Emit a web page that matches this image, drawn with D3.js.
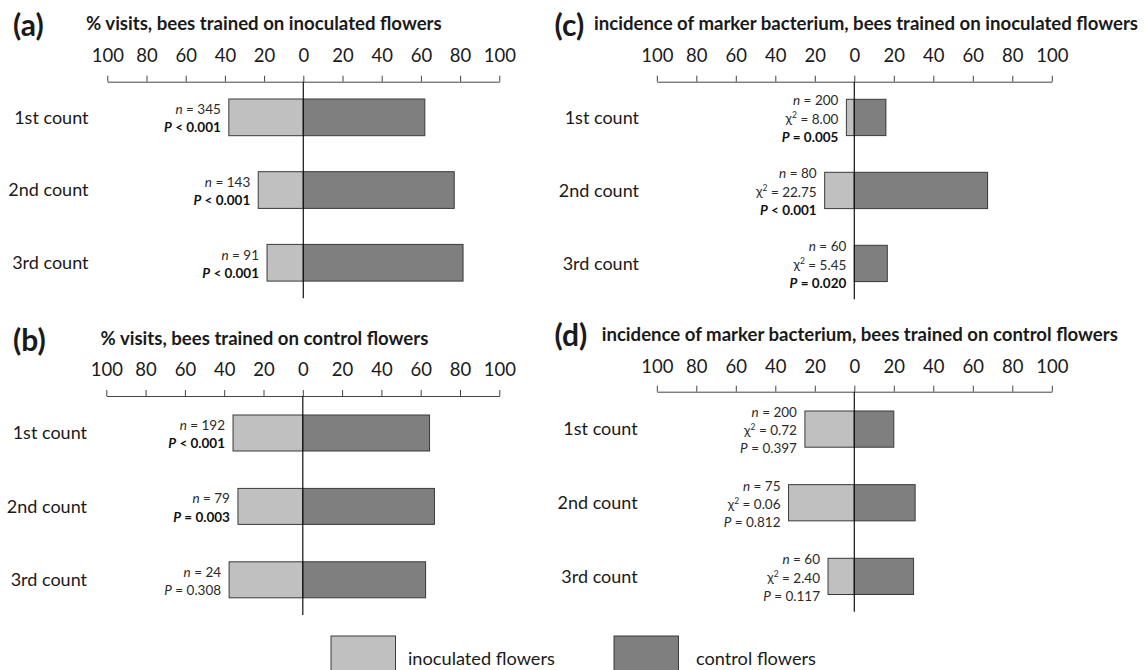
<!DOCTYPE html>
<html>
<head>
<meta charset="utf-8">
<script src="https://cdn.jsdelivr.net/npm/d3@7"></script>
<style>
  html, body { margin: 0; padding: 0; background: #fff; }
  svg { display: block; font-family: Lato, "Open Sans", sans-serif; }
</style>
</head>
<body>
<svg id="chart" width="1145" height="670"></svg>
<script>
// ---- data ----
const categories = ["1st count", "2nd count", "3rd count"];
const tickValues = [-100, -80, -60, -40, -20, 0, 20, 40, 60, 80, 100];

// (a) % visits, bees trained on inoculated flowers
const aInoculated = [38, 23, 18.5];
const aControl = [62, 77, 81.5];
const aN = [345, 143, 91];
const aP = ["< 0.001", "< 0.001", "< 0.001"];
const aSig = [true, true, true];

// (b) % visits, bees trained on control flowers
const bInoculated = [35.5, 33, 37.5];
const bControl = [64.5, 67, 62.5];
const bN = [192, 79, 24];
const bP = ["< 0.001", "= 0.003", "= 0.308"];
const bSig = [true, true, false];

// (c) incidence of marker bacterium, bees trained on inoculated flowers
const cInoculated = [4, 15, 0];
const cControl = [16, 67.5, 16.7];
const cN = [200, 80, 60];
const cChi = ["8.00", "22.75", "5.45"];
const cP = ["= 0.005", "< 0.001", "= 0.020"];
const cSig = [true, true, true];

// (d) incidence of marker bacterium, bees trained on control flowers
const dInoculated = [25, 33.3, 13.3];
const dControl = [20, 30.8, 30];
const dN = [200, 75, 60];
const dChi = ["0.72", "0.06", "2.40"];
const dP = ["= 0.397", "= 0.812", "= 0.117"];
const dSig = [false, false, false];

const legendLabels = ["inoculated flowers", "control flowers"];

// ---- style ----
const colInoc = "#c0c0c0";
const colCtrl = "#7f7f7f";
const barStroke = "#3a3a3a";
const textCol = "#1a1a1a";

const svg = d3.select("#chart");

function drawPanel(L, inoc, ctrl, ns, chis, ps, sig) {
  const g = svg.append("g");

  const x = d3.scaleLinear()
    .domain([-100, 100])
    .range([L.zeroX - L.half, L.zeroX + L.half]);

  const y = d3.scaleBand()
    .domain(categories)
    .range([L.bandTop, L.bandTop + 2 * L.step + L.barH])
    .paddingInner(1 - L.barH / L.step)
    .paddingOuter(0);

  // panel letter and title
  g.append("text")
    .attr("x", L.letterX).attr("y", L.letterY)
    .attr("font-size", 30).attr("font-weight", 700)
    .attr("fill", textCol)
    .text(L.letter);
  g.append("text")
    .attr("x", L.titleX).attr("y", L.titleY)
    .attr("font-size", 18.6).attr("font-weight", 700)
    .attr("fill", textCol)
    .text(L.title);

  // top axis
  const axis = d3.axisTop(x)
    .tickValues(tickValues)
    .tickFormat(d => Math.abs(d))
    .tickSize(6)
    .tickSizeOuter(0)
    .tickPadding(L.tickPad);
  const ag = g.append("g")
    .attr("transform", `translate(0,${L.axisY})`)
    .call(axis);
  ag.select(".domain").attr("stroke", "#444").attr("stroke-width", 1);
  ag.selectAll(".tick line").attr("stroke", "#444");
  ag.selectAll(".tick text")
    .attr("font-size", 18.5)
    .attr("font-family", "Lato, 'Open Sans', sans-serif")
    .attr("fill", textCol);

  // category labels
  g.selectAll("text.cat")
    .data(categories)
    .join("text")
    .attr("class", "cat")
    .attr("x", L.labelRight)
    .attr("y", d => y(d) + y.bandwidth() / 2)
    .attr("dy", "0.35em")
    .attr("text-anchor", "end")
    .attr("font-size", 18)
    .attr("fill", textCol)
    .text(d => d);

  const rows = categories.map((c, i) => ({
    c, inoc: inoc[i], ctrl: ctrl[i], n: ns[i],
    chi: chis ? chis[i] : null, p: ps[i], sig: sig[i]
  }));

  // inoculated bars (to the left)
  g.selectAll("rect.inoc")
    .data(rows.filter(r => r.inoc > 0))
    .join("rect")
    .attr("class", "inoc")
    .attr("x", r => x(-r.inoc))
    .attr("y", r => y(r.c))
    .attr("width", r => x(0) - x(-r.inoc))
    .attr("height", y.bandwidth())
    .attr("fill", colInoc)
    .attr("stroke", barStroke)
    .attr("stroke-width", 1);

  // control bars (to the right)
  g.selectAll("rect.ctrl")
    .data(rows)
    .join("rect")
    .attr("class", "ctrl")
    .attr("x", x(0))
    .attr("y", r => y(r.c))
    .attr("width", r => x(r.ctrl) - x(0))
    .attr("height", y.bandwidth())
    .attr("fill", colCtrl)
    .attr("stroke", barStroke)
    .attr("stroke-width", 1);

  // zero line
  g.append("line")
    .attr("x1", x(0)).attr("x2", x(0))
    .attr("y1", L.axisY).attr("y2", L.lineBottom)
    .attr("stroke", "#111").attr("stroke-width", 1.2);

  // statistics beside each pair of bars
  const lineGap = 18.2;
  rows.forEach(r => {
    const right = x(-r.inoc) - 8;
    const lines = chis ? 3 : 2;
    const cy = y(r.c) + y.bandwidth() / 2 + 1.3;
    const first = cy - (lines - 1) * lineGap / 2;
    const t = g.append("text")
      .attr("text-anchor", "end")
      .attr("font-size", 13.5)
      .attr("fill", "#2a2a2a");
    let k = 0;
    const nLine = t.append("tspan").attr("x", right).attr("y", first + lineGap * k++).attr("dy", "0.35em");
    nLine.append("tspan").attr("font-style", "italic").text("n");
    nLine.append("tspan").text(" = " + r.n);
    if (chis) {
      const cl = t.append("tspan").attr("x", right).attr("y", first + lineGap * k++).attr("dy", "0.35em");
      cl.append("tspan").text("\u03C7");
      cl.append("tspan").attr("font-size", 8.5).attr("dy", "-0.6em").text("2");
      cl.append("tspan").attr("dy", "0.4em").text(" = " + r.chi);
    }
    const pl = t.append("tspan").attr("x", right).attr("y", first + lineGap * k++).attr("dy", "0.35em")
      .attr("font-weight", r.sig ? 700 : 400)
      .attr("fill", r.sig ? "#111" : "#2a2a2a");
    pl.append("tspan").attr("font-style", "italic").text("P");
    pl.append("tspan").text(" " + r.p);
  });
}

drawPanel({
  letter: "(a)", title: "% visits, bees trained on inoculated flowers",
  letterX: 13, letterY: 36, titleX: 86, titleY: 30,
  zeroX: 303.3, half: 196, axisY: 81.7, tickPad: 14,
  bandTop: 99, step: 72.7, barH: 36.7,
  lineBottom: 298.3, labelRight: 88.5
}, aInoculated, aControl, aN, null, aP, aSig);

drawPanel({
  letter: "(b)", title: "% visits, bees trained on control flowers",
  letterX: 13, letterY: 351, titleX: 100.6, titleY: 345,
  zeroX: 302.8, half: 196.5, axisY: 396, tickPad: 14,
  bandTop: 415, step: 73.4, barH: 36,
  lineBottom: 615, labelRight: 87
}, bInoculated, bControl, bN, null, bP, bSig);

drawPanel({
  letter: "(c)", title: "incidence of marker bacterium, bees trained on inoculated flowers",
  letterX: 554.6, letterY: 36, titleX: 594, titleY: 30,
  zeroX: 854.3, half: 197.5, axisY: 81.7, tickPad: 14,
  bandTop: 99.3, step: 73, barH: 36.3,
  lineBottom: 299.3, labelRight: 639
}, cInoculated, cControl, cN, cChi, cP, cSig);

drawPanel({
  letter: "(d)", title: "incidence of marker bacterium, bees trained on control flowers",
  letterX: 554.6, letterY: 346, titleX: 601.7, titleY: 340.5,
  zeroX: 854.3, half: 197.5, axisY: 391.7, tickPad: 13,
  bandTop: 411, step: 73.65, barH: 36.2,
  lineBottom: 611.7, labelRight: 637.7
}, dInoculated, dControl, dN, dChi, dP, dSig);

// legend
const legend = svg.append("g");
const legendColors = [colInoc, colCtrl];
const legendBoxX = [331, 614];
const legendTextX = [408, 696];
legendLabels.forEach((lab, i) => {
  legend.append("rect")
    .attr("x", legendBoxX[i]).attr("y", 636)
    .attr("width", 64.5).attr("height", 44)
    .attr("fill", legendColors[i])
    .attr("stroke", barStroke).attr("stroke-width", 1);
  legend.append("text")
    .attr("x", legendTextX[i]).attr("y", 658.3)
    .attr("dy", "0.35em")
    .attr("font-size", 18.2)
    .attr("fill", textCol)
    .text(lab);
});
</script>
</body>
</html>
